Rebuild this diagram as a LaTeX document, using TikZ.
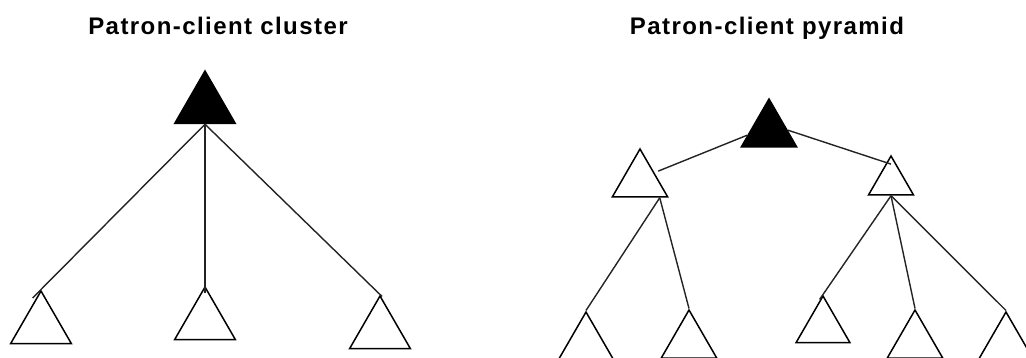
\documentclass[tikz,border=0pt]{standalone}
\usepackage{fontspec}
\setmainfont{Liberation Sans}
\newfontfamily\titlefont[LetterSpace=6]{Liberation Sans}
\usepackage{tikz}
\usetikzlibrary{shapes.geometric,calc,positioning}
\definecolor{cLine}{RGB}{35,35,35}
\tikzset{
  basetri/.style={regular polygon,regular polygon sides=3,draw=black,
                  line width=1.5pt,inner sep=0pt,minimum size=64pt},
  patronnode/.style={basetri,fill=black},
  clientnode/.style={basetri},
  link/.style={draw=cLine,line width=1.4pt},
  titlenode/.style={font=\titlefont\fontsize{24}{28}\selectfont\bfseries,
                    anchor=base}
}

\begin{document}
\begin{tikzpicture}[x=1pt,y=-1pt]
  \clip (0,0) rectangle (1026,358);
  % titles
  \node[titlenode] (tcluster) at (218,35) {Patron-client cluster};
  \node[titlenode] (tpyramid) at (767,35) {Patron-client pyramid};

  % cluster
  \node[patronnode,minimum size=70pt] (boss) at (205,106) {};
  \node[clientnode,minimum size=70pt] (c1) at (41,326) {};
  \node[clientnode,minimum size=70pt] (c2) at (205,322) {};
  \node[clientnode,minimum size=70pt] (c3) at (380,331) {};
  \draw[link,shorten >=-12pt] (boss.side 2) -- (c1.corner 1);
  \draw[link,shorten >=-8pt] (boss.side 2) -- (c2.corner 1);
  \draw[link,shorten >=-3pt] (boss.side 2) -- (c3.corner 1);

  % pyramid
  \node[patronnode] (boss2) at (769,131) {};
  \node[clientnode] (lmid) at (640,181) {};
  \node[clientnode,minimum size=52pt] (rmid) at (891,182) {};
  \node[clientnode] (b1) at (586,344) {};
  \node[clientnode] (b2) at (689,342) {};
  \node[clientnode,minimum size=62pt] (b3) at (823,327) {};
  \node[clientnode] (b4) at (915,342) {};
  \node[clientnode] (b5) at (1006,344) {};
  \coordinate (lfoot) at ($(lmid.corner 2)!0.84!(lmid.corner 3)$);
  \coordinate (rtip) at ($(rmid.corner 1)!0.35!(rmid.center)$);
  \draw[link,shorten >=4pt] ($(boss2.corner 1)!0.75!(boss2.corner 2)$) -- (lmid.side 3);
  \draw[link] ($(boss2.corner 1)!0.65!(boss2.corner 3)$) -- (rtip);
  \draw[link] (lfoot) -- (b1.corner 1);
  \draw[link] (lfoot) -- (b2.corner 1);
  \draw[link,shorten >=-6pt] (rmid.side 2) -- (b3.corner 1);
  \draw[link] (rmid.side 2) -- (b4.corner 1);
  \draw[link] (rmid.side 2) -- (b5.corner 1);
\end{tikzpicture}
\end{document}
